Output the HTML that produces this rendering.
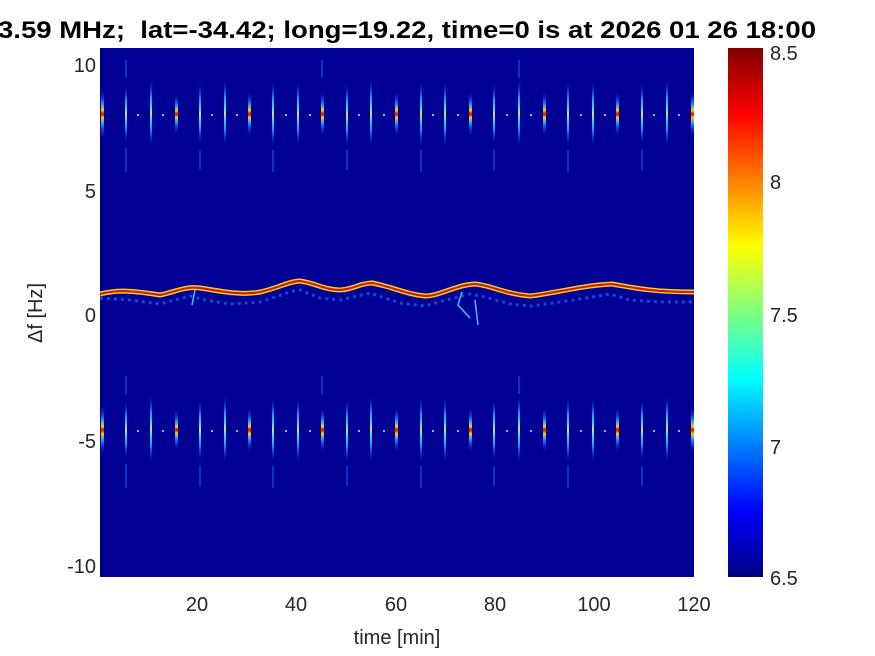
<!DOCTYPE html>
<html><head><meta charset="utf-8"><style>
html,body{margin:0;padding:0;background:#fff;}
svg{display:block;font-family:"Liberation Sans",Arial,sans-serif;}
</style></head><body>
<svg width="875" height="656" viewBox="0 0 875 656" xmlns="http://www.w3.org/2000/svg">
<defs>
<linearGradient id="jet" x1="0" y1="1" x2="0" y2="0">
<stop offset="0" stop-color="#000080"/><stop offset="0.125" stop-color="#0000ff"/>
<stop offset="0.375" stop-color="#00ffff"/><stop offset="0.625" stop-color="#ffff00"/>
<stop offset="0.875" stop-color="#ff0000"/><stop offset="1" stop-color="#800000"/>
</linearGradient>
<linearGradient id="sp" x1="0" y1="0" x2="0" y2="1">
<stop offset="0" stop-color="#0030ff" stop-opacity="0"/><stop offset="0.25" stop-color="#2090ff"/>
<stop offset="0.42" stop-color="#40e0ff"/><stop offset="0.5" stop-color="#e0e040"/>
<stop offset="0.58" stop-color="#40e0ff"/><stop offset="0.75" stop-color="#2090ff"/>
<stop offset="1" stop-color="#0030ff" stop-opacity="0"/>
</linearGradient>
<linearGradient id="spr" x1="0" y1="0" x2="0" y2="1">
<stop offset="0" stop-color="#0030ff" stop-opacity="0"/><stop offset="0.3" stop-color="#20a0ff"/>
<stop offset="0.42" stop-color="#ffd000"/><stop offset="0.5" stop-color="#e00000"/>
<stop offset="0.58" stop-color="#ffd000"/><stop offset="0.7" stop-color="#20a0ff"/>
<stop offset="1" stop-color="#0030ff" stop-opacity="0"/>
</linearGradient>
<clipPath id="c"><rect x="100" y="48" width="594" height="529"/></clipPath>
</defs>
<rect x="100" y="48" width="594" height="529" fill="#000094"/>
<g clip-path="url(#c)">
<g id="spk">
<rect x="101" y="90" width="3" height="48" fill="url(#spr)"/>
<rect x="125" y="86" width="2" height="56" fill="url(#sp)"/>
<rect x="150" y="80" width="2" height="66" fill="url(#sp)"/>
<rect x="175" y="94" width="3" height="40" fill="url(#spr)"/>
<rect x="199" y="84" width="2" height="60" fill="url(#sp)"/>
<rect x="224" y="80" width="2" height="66" fill="url(#sp)"/>
<rect x="248" y="92" width="3" height="44" fill="url(#spr)"/>
<rect x="272" y="82" width="2" height="64" fill="url(#sp)"/>
<rect x="297" y="82" width="2" height="64" fill="url(#sp)"/>
<rect x="321" y="92" width="3" height="44" fill="url(#spr)"/>
<rect x="346" y="84" width="2" height="62" fill="url(#sp)"/>
<rect x="370" y="80" width="2" height="66" fill="url(#sp)"/>
<rect x="395" y="92" width="3" height="44" fill="url(#spr)"/>
<rect x="420" y="82" width="2" height="64" fill="url(#sp)"/>
<rect x="444" y="82" width="2" height="64" fill="url(#sp)"/>
<rect x="469" y="92" width="3" height="44" fill="url(#spr)"/>
<rect x="493" y="84" width="2" height="60" fill="url(#sp)"/>
<rect x="518" y="80" width="2" height="66" fill="url(#sp)"/>
<rect x="543" y="92" width="3" height="44" fill="url(#spr)"/>
<rect x="567" y="82" width="2" height="64" fill="url(#sp)"/>
<rect x="592" y="82" width="2" height="64" fill="url(#sp)"/>
<rect x="616" y="92" width="3" height="44" fill="url(#spr)"/>
<rect x="641" y="84" width="2" height="60" fill="url(#sp)"/>
<rect x="666" y="80" width="2" height="66" fill="url(#sp)"/>
<rect x="691" y="92" width="3" height="44" fill="url(#spr)"/>
<g fill="#60d0ff">
<rect x="137" y="114" width="2" height="2"/><rect x="162" y="114" width="2" height="2"/>
<rect x="211" y="114" width="2" height="2"/><rect x="236" y="114" width="2" height="2"/>
<rect x="285" y="114" width="2" height="2"/><rect x="309" y="114" width="2" height="2"/>
<rect x="358" y="114" width="2" height="2"/><rect x="383" y="114" width="2" height="2"/>
<rect x="432" y="114" width="2" height="2"/><rect x="457" y="114" width="2" height="2"/>
<rect x="506" y="114" width="2" height="2"/><rect x="530" y="114" width="2" height="2"/>
<rect x="580" y="114" width="2" height="2"/><rect x="604" y="114" width="2" height="2"/>
<rect x="653" y="114" width="2" height="2"/><rect x="678" y="114" width="2" height="2"/>
</g>
<g stroke="#1060ff" stroke-width="1.5" opacity="0.7">
<line x1="126" y1="148" x2="126" y2="172"/><line x1="200" y1="150" x2="200" y2="170"/>
<line x1="273" y1="150" x2="273" y2="172"/><line x1="347" y1="150" x2="347" y2="170"/>
<line x1="421" y1="150" x2="421" y2="172"/><line x1="494" y1="150" x2="494" y2="170"/>
<line x1="568" y1="150" x2="568" y2="172"/><line x1="642" y1="150" x2="642" y2="170"/>
<line x1="126" y1="60" x2="126" y2="78"/><line x1="322" y1="60" x2="322" y2="78"/>
<line x1="519" y1="60" x2="519" y2="78"/>
</g>
</g>
<use href="#spk" transform="translate(0,316)"/>
<path d="M100,298 L130,300 L160,304 L190,296 L205,300 L230,304 L260,302 L290,292 L300,290 L320,298 L340,300 L370,293 L400,303 L425,306 L450,299 L470,294 L485,297 L510,304 L530,306 L560,302 L580,299 L610,294 L630,300 L660,302 L694,302" fill="none" stroke="#1080ff" stroke-width="3" stroke-dasharray="3 4" opacity="0.6"/>
<path d="M100,294 C115,290 130,290 160,295 C175,292 185,286 200,288 C215,290 240,296 260,292 C275,289 290,281 300,281 C315,283 325,290 340,290 C355,289 360,283 372,283 C390,286 405,294 425,296 C440,296 455,285 475,284 C490,285 505,294 530,296 C550,294 585,285 612,284 C630,287 650,292 694,292" fill="none" stroke="#f0d020" stroke-width="5"/>
<path d="M100,294 C115,290 130,290 160,295 C175,292 185,286 200,288 C215,290 240,296 260,292 C275,289 290,281 300,281 C315,283 325,290 340,290 C355,289 360,283 372,283 C390,286 405,294 425,296 C440,296 455,285 475,284 C490,285 505,294 530,296 C550,294 585,285 612,284 C630,287 650,292 694,292" fill="none" stroke="#d01000" stroke-width="2"/>
<path d="M195,290 L192,305 M462,292 L458,305 L470,318 M475,300 L478,325" stroke="#40c0ff" stroke-width="1.5" fill="none"/>
</g>
<g fill="#262626" font-size="20">
<text x="96" y="72" text-anchor="end">10</text>
<text x="96" y="198" text-anchor="end">5</text>
<text x="96" y="322" text-anchor="end">0</text>
<text x="96" y="448" text-anchor="end">-5</text>
<text x="96" y="573" text-anchor="end">-10</text>
<text x="197" y="611" text-anchor="middle">20</text>
<text x="296" y="611" text-anchor="middle">40</text>
<text x="396" y="611" text-anchor="middle">60</text>
<text x="495" y="611" text-anchor="middle">80</text>
<text x="594" y="611" text-anchor="middle">100</text>
<text x="694" y="611" text-anchor="middle">120</text>
<text x="397" y="644" text-anchor="middle">time [min]</text>
<text transform="translate(42,313) rotate(-90)" text-anchor="middle">Δf [Hz]</text>
<text x="770" y="60">8.5</text>
<text x="770" y="189">8</text>
<text x="770" y="322">7.5</text>
<text x="770" y="454">7</text>
<text x="770" y="585">6.5</text>
</g>
<rect x="728" y="48" width="35" height="529" fill="url(#jet)"/>
<text x="-2" y="38" font-size="24" font-weight="bold" fill="#000" xml:space="preserve" textLength="818" lengthAdjust="spacingAndGlyphs">3.59 MHz;  lat=-34.42; long=19.22, time=0 is at 2026 01 26 18:00</text>
</svg>
</body></html>
